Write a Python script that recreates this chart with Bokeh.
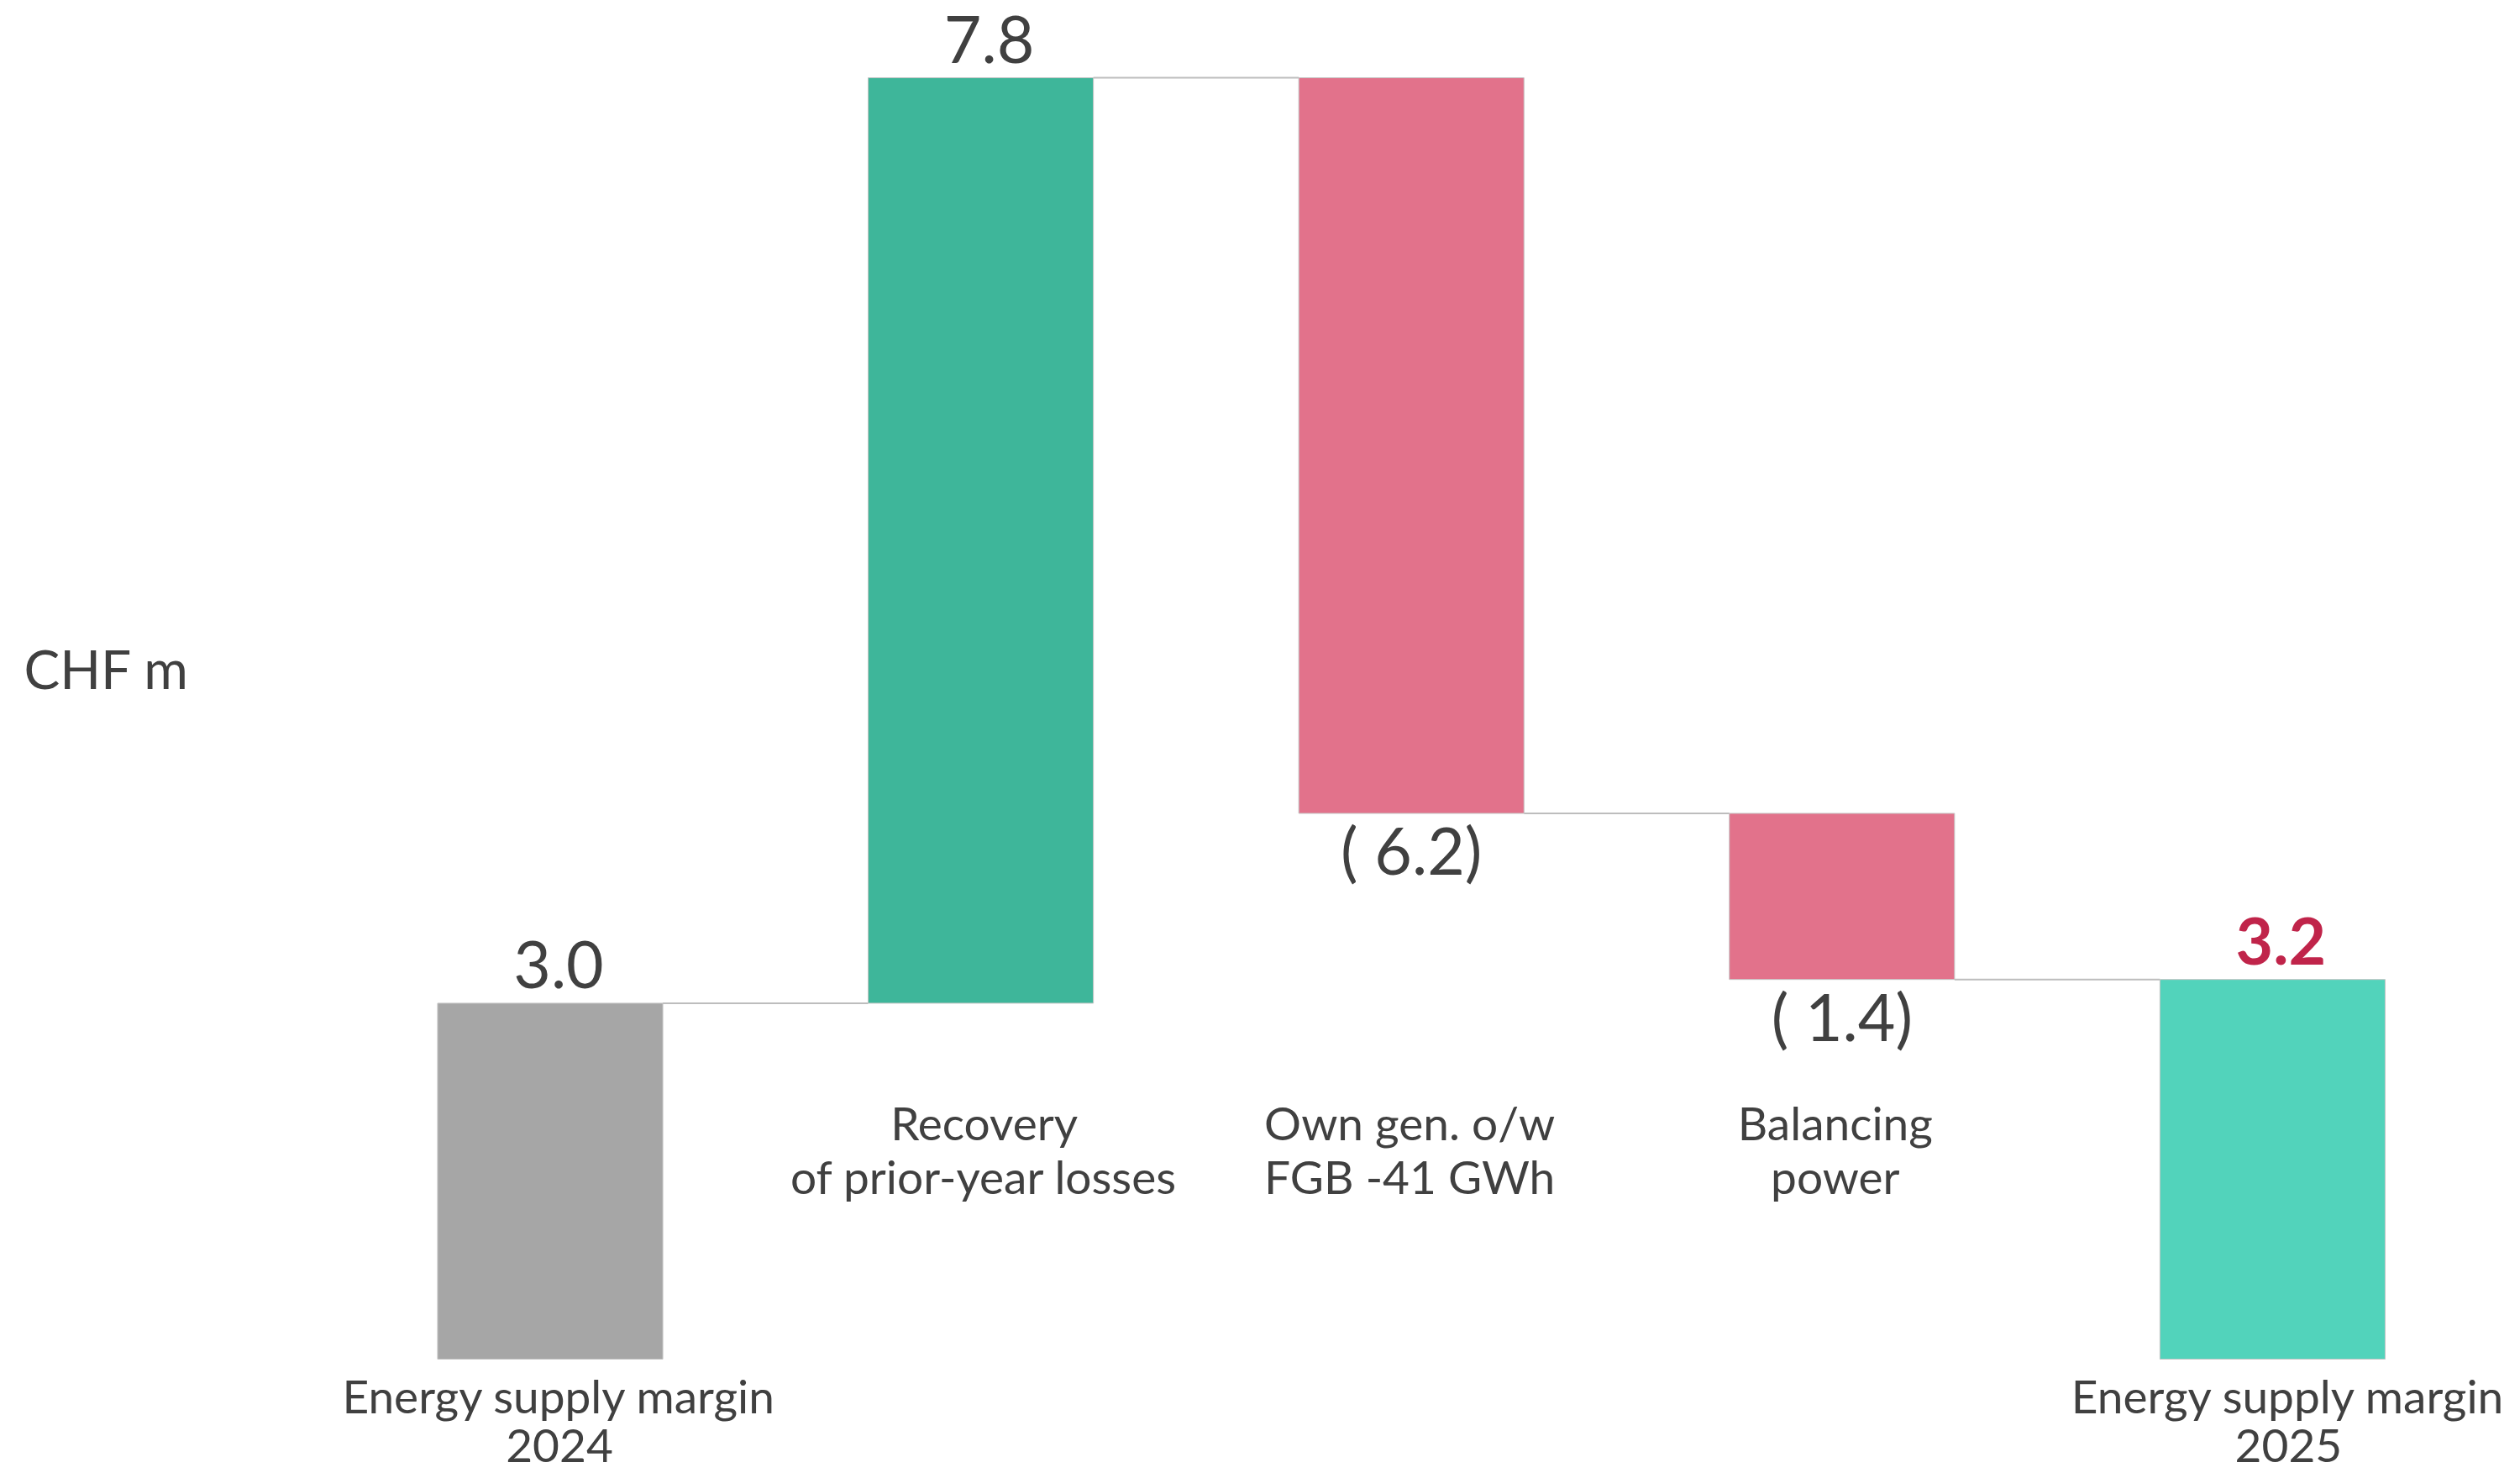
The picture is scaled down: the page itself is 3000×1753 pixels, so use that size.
from bokeh.plotting import figure
from bokeh.models import Range1d, ColumnDataSource
from bokeh.core.properties import value
from bokeh.embed import file_html
from bokeh.resources import INLINE

# ---- data ----
categories = ["Energy supply margin\n2024", "Recovery\nof prior-year losses",
              "Own gen. o/w\nFGB -41 GWh", "Balancing\npower",
              "Energy supply margin\n2025"]
values = [3.0, 7.8, -6.2, -1.4, 3.2]
is_total = [True, False, False, False, True]
value_labels = ["3.0", "7.8", "( 6.2)", "( 1.4)", "3.2"]
unit_label = "CHF m"

# ---- layout / style ----
W, H = 3000, 1753
X0_PX, STEP_PX = 654.5, 512.6      # pixel position of first bar centre, bar spacing
Y0_PX, UNIT_PX = 1617.0, 141.2     # pixel row of value 0, pixels per unit
BAR_W = 0.523
FONT = "Lato"
TXT = "#404040"
colors = ["#a6a6a6", "#3eb69a", "#e2728b", "#e2728b", "#52d3bb"]
VAL_FS, LAB_FS, UNIT_FS = 77, 55, 64
BASE_FIX = 0.36   # renderer places alphabetic baseline this many em too low

def px_y(py):
    return (Y0_PX - py) / UNIT_PX

def base_y(py, fs):
    return px_y(py - BASE_FIX * fs)

def px_dx(dx):
    return dx / STEP_PX

p = figure(width=W, height=H, output_backend="svg", toolbar_location=None,
           x_range=Range1d(-X0_PX / STEP_PX, (W - X0_PX) / STEP_PX),
           y_range=Range1d(px_y(H), px_y(0)),
           min_border=0, outline_line_color=None)
p.axis.visible = False
p.grid.visible = False
p.background_fill_color = "white"
p.border_fill_color = "white"

# waterfall geometry
xs = list(range(len(values)))
bottoms, tops, levels = [], [], []
running = 0.0
for v, tot in zip(values, is_total):
    if tot:
        bottoms.append(0.0)
        tops.append(v)
        running = v
    else:
        new = running + v
        bottoms.append(min(running, new))
        tops.append(max(running, new))
        running = new
    levels.append(running)

src = ColumnDataSource(dict(x=xs, top=tops, bottom=bottoms, color=colors))
p.vbar(x="x", top="top", bottom="bottom", width=BAR_W, fill_color="color",
       line_color="#c4c4c4", line_width=1, source=src)

# connectors
p.segment(x0=[i + BAR_W / 2 for i in xs[:-1]], x1=[i + 1 - BAR_W / 2 for i in xs[:-1]],
          y0=levels[:-1], y1=levels[:-1], line_color="#bdbdbd", line_width=2)

# value labels
vx, vy = [], []
for i, v in enumerate(values):
    if v >= 0:
        vx.append(i + px_dx(10))
        top_px = Y0_PX - tops[i] * UNIT_PX
        vy.append(base_y(top_px - 18, VAL_FS))
    else:
        vx.append(i + px_dx(0))
        bot_px = Y0_PX - bottoms[i] * UNIT_PX
        vy.append(base_y(bot_px + 71, VAL_FS))
p.text(x=vx[:-1], y=vy[:-1], text=value_labels[:-1], text_font=value(FONT),
       text_font_size=f"{VAL_FS}px", text_color=TXT, text_align="center",
       text_baseline="alphabetic")
p.text(x=[vx[-1]], y=[vy[-1]], text=[value_labels[-1]], text_font=value(FONT),
       text_font_size=f"{VAL_FS}px", text_font_style="bold", text_color="#c0244a",
       text_align="center", text_baseline="alphabetic")

# category labels
lab_dx = [11, 4, -2, -8, 19]
lx, ly, lt = [], [], []
for i, (cat, tot) in enumerate(zip(categories, is_total)):
    base, step = (1680, 60) if tot else (1355, 64)
    for k, line in enumerate(cat.split("\n")):
        lx.append(i + px_dx(lab_dx[i]))
        ly.append(base_y(base + k * step, LAB_FS))
        lt.append(line)
p.text(x=lx, y=ly, text=lt, text_font=value(FONT), text_font_size=f"{LAB_FS}px",
       text_color=TXT, text_align="center", text_baseline="alphabetic")

# unit label
p.text(x=[px_dx(28) - X0_PX / STEP_PX], y=[base_y(818, UNIT_FS)], text=[unit_label],
       text_font=value(FONT), text_font_size=f"{UNIT_FS}px", text_color=TXT,
       text_align="left", text_baseline="alphabetic")

open("out.html", "w").write(file_html(p, INLINE))
